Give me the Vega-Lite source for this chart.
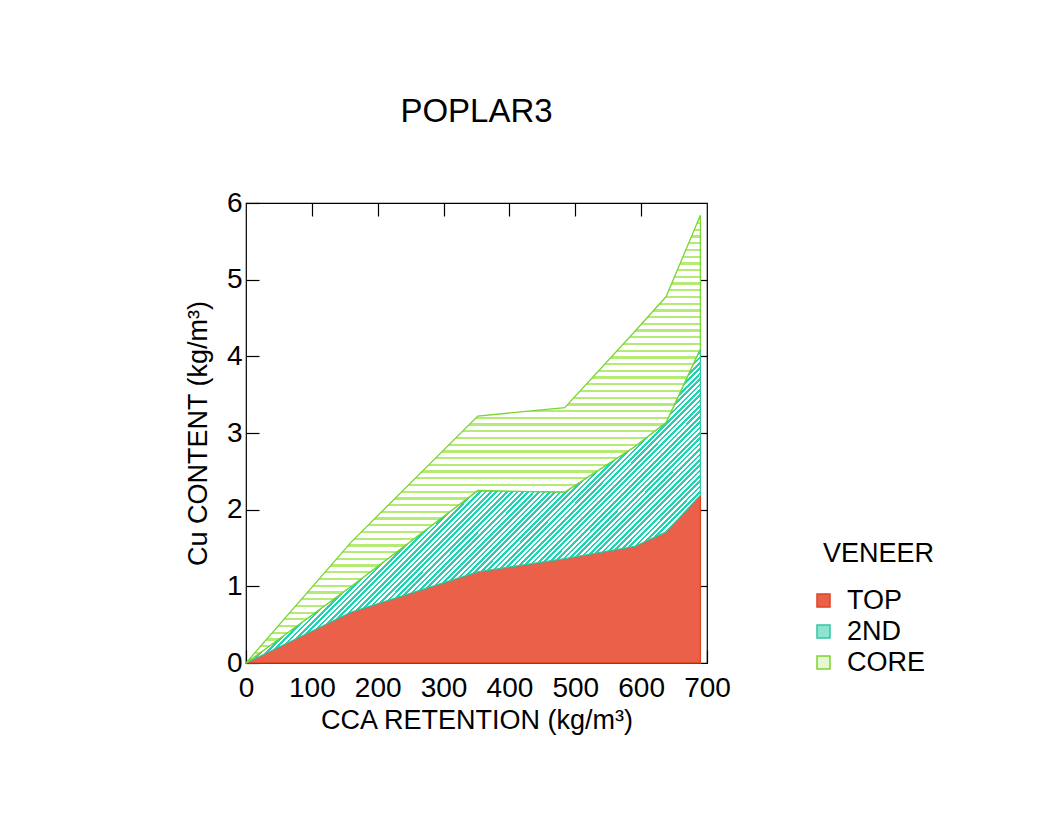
{
  "$schema": "https://vega.github.io/schema/vega-lite/v6.json",
  "width": 461,
  "height": 460,
  "autosize": {"type": "none"},
  "padding": {"left": 246, "top": 203, "right": 333, "bottom": 156},
  "background": "white",
  "title": {"text": "POPLAR3", "fontSize": 33, "fontWeight": "normal", "font": "Liberation Sans", "color": "#000", "offset": 60, "anchor": "middle", "frame": "group"},
  "config": {
    "view": {"stroke": "#000", "strokeWidth": 1.2},
    "font": "Liberation Sans",
    "axis": {"grid": false, "domain": false, "zindex": 1, "labelFlush": false, "labelOverlap": false, "tickColor": "#000", "tickSize": -13, "tickWidth": 1.2, "labelFont": "Liberation Sans", "labelFontSize": 28, "labelColor": "#000", "titleFont": "Liberation Sans", "titleFontSize": 27, "titleFontWeight": "normal", "titleColor": "#000"}
  },
  "data": {"values": [
    {"series": "TOP", "x": 0, "lo": 0, "hi": 0},
    {"series": "TOP", "x": 160, "lo": 0, "hi": 0.665},
    {"series": "TOP", "x": 352, "lo": 0, "hi": 1.19},
    {"series": "TOP", "x": 484, "lo": 0, "hi": 1.36},
    {"series": "TOP", "x": 590, "lo": 0, "hi": 1.52},
    {"series": "TOP", "x": 638, "lo": 0, "hi": 1.71},
    {"series": "TOP", "x": 690, "lo": 0, "hi": 2.19},
    {"series": "2ND", "x": 0, "lo": 0, "hi": 0},
    {"series": "2ND", "x": 160, "lo": 0.665, "hi": 1.0},
    {"series": "2ND", "x": 352, "lo": 1.19, "hi": 2.25},
    {"series": "2ND", "x": 484, "lo": 1.36, "hi": 2.23},
    {"series": "2ND", "x": 590, "lo": 1.52, "hi": 2.82},
    {"series": "2ND", "x": 638, "lo": 1.71, "hi": 3.14},
    {"series": "2ND", "x": 690, "lo": 2.19, "hi": 4.10},
    {"series": "CORE", "x": 0, "lo": 0, "hi": 0},
    {"series": "CORE", "x": 160, "lo": 1.0, "hi": 1.58},
    {"series": "CORE", "x": 352, "lo": 2.25, "hi": 3.22},
    {"series": "CORE", "x": 484, "lo": 2.23, "hi": 3.33},
    {"series": "CORE", "x": 590, "lo": 2.82, "hi": 4.32},
    {"series": "CORE", "x": 638, "lo": 3.14, "hi": 4.78},
    {"series": "CORE", "x": 690, "lo": 4.10, "hi": 5.84}
  ]},
  "layer": [
    {
      "transform": [{"filter": "datum.series === 'TOP'"}],
      "mark": {"type": "area", "strokeWidth": 1.3},
      "encoding": {
        "x": {"field": "x", "type": "quantitative", "scale": {"domain": [0, 700], "nice": false}, "axis": {"orient": "bottom", "values": [0, 100, 200, 300, 400, 500, 600, 700], "title": "CCA RETENTION (kg/m³)", "labelPadding": 24, "titlePadding": 5}},
        "y": {"field": "hi", "type": "quantitative", "scale": {"domain": [0, 6], "nice": false}, "axis": {"orient": "left", "values": [0, 1, 2, 3, 4, 5, 6], "title": "Cu CONTENT (kg/m³)", "labelPadding": 17, "titlePadding": 14}},
        "y2": {"field": "lo"},
        "fill": {"field": "series", "type": "nominal", "sort": ["TOP", "2ND", "CORE"], "scale": {"domain": ["TOP", "2ND", "CORE"], "range": ["#ea6048", "#8fe3d3", "#e6f7d2"]},
          "legend": {"title": "VENEER", "orient": "none", "legendX": 577, "legendY": 338, "padding": 0, "symbolType": "square", "symbolSize": 169, "symbolStrokeWidth": 1.5, "symbolOffset": -13, "labelFontSize": 27, "labelFont": "Liberation Sans", "labelColor": "#000", "titleFontSize": 27, "titleFont": "Liberation Sans", "titleFontWeight": "normal", "titleColor": "#000", "labelOffset": 10, "titlePadding": 19, "rowPadding": 3}},
        "stroke": {"field": "series", "type": "nominal", "sort": ["TOP", "2ND", "CORE"], "scale": {"domain": ["TOP", "2ND", "CORE"], "range": ["#dd4420", "#30c8a0", "#78d630"]}}
      }
    },
    {
      "transform": [{"filter": "datum.series === '2ND'"}],
      "mark": {"type": "area", "strokeWidth": 1.3, "fill": {"gradient": "linear", "x1": 0, "y1": 0, "x2": 1, "y2": 0.69, "stops": [
        {"offset": 0.44, "color": "#22d3b2"}, {"offset": 0.444, "color": "#22d3b2"}, {"offset": 0.444, "color": "#fff"}, {"offset": 0.448, "color": "#fff"},
        {"offset": 0.448, "color": "#22d3b2"}, {"offset": 0.452, "color": "#22d3b2"}, {"offset": 0.452, "color": "#fff"}, {"offset": 0.456, "color": "#fff"},
        {"offset": 0.456, "color": "#22d3b2"}, {"offset": 0.46, "color": "#22d3b2"}, {"offset": 0.46, "color": "#fff"}, {"offset": 0.464, "color": "#fff"},
        {"offset": 0.464, "color": "#22d3b2"}, {"offset": 0.468, "color": "#22d3b2"}, {"offset": 0.468, "color": "#fff"}, {"offset": 0.472, "color": "#fff"},
        {"offset": 0.472, "color": "#22d3b2"}, {"offset": 0.476, "color": "#22d3b2"}, {"offset": 0.476, "color": "#fff"}, {"offset": 0.48, "color": "#fff"},
        {"offset": 0.48, "color": "#22d3b2"}, {"offset": 0.484, "color": "#22d3b2"}, {"offset": 0.484, "color": "#fff"}, {"offset": 0.488, "color": "#fff"},
        {"offset": 0.488, "color": "#22d3b2"}, {"offset": 0.492, "color": "#22d3b2"}, {"offset": 0.492, "color": "#fff"}, {"offset": 0.496, "color": "#fff"},
        {"offset": 0.496, "color": "#22d3b2"}, {"offset": 0.5, "color": "#22d3b2"}, {"offset": 0.5, "color": "#fff"}, {"offset": 0.504, "color": "#fff"},
        {"offset": 0.504, "color": "#22d3b2"}, {"offset": 0.508, "color": "#22d3b2"}, {"offset": 0.508, "color": "#fff"}, {"offset": 0.512, "color": "#fff"},
        {"offset": 0.512, "color": "#22d3b2"}, {"offset": 0.516, "color": "#22d3b2"}, {"offset": 0.516, "color": "#fff"}, {"offset": 0.52, "color": "#fff"},
        {"offset": 0.52, "color": "#22d3b2"}, {"offset": 0.524, "color": "#22d3b2"}, {"offset": 0.524, "color": "#fff"}, {"offset": 0.528, "color": "#fff"},
        {"offset": 0.528, "color": "#22d3b2"}, {"offset": 0.532, "color": "#22d3b2"}, {"offset": 0.532, "color": "#fff"}, {"offset": 0.536, "color": "#fff"},
        {"offset": 0.536, "color": "#22d3b2"}, {"offset": 0.54, "color": "#22d3b2"}, {"offset": 0.54, "color": "#fff"}, {"offset": 0.544, "color": "#fff"},
        {"offset": 0.544, "color": "#22d3b2"}, {"offset": 0.548, "color": "#22d3b2"}, {"offset": 0.548, "color": "#fff"}, {"offset": 0.552, "color": "#fff"},
        {"offset": 0.552, "color": "#22d3b2"}, {"offset": 0.556, "color": "#22d3b2"}, {"offset": 0.556, "color": "#fff"}, {"offset": 0.56, "color": "#fff"},
        {"offset": 0.56, "color": "#22d3b2"}, {"offset": 0.564, "color": "#22d3b2"}, {"offset": 0.564, "color": "#fff"}, {"offset": 0.568, "color": "#fff"},
        {"offset": 0.568, "color": "#22d3b2"}, {"offset": 0.572, "color": "#22d3b2"}, {"offset": 0.572, "color": "#fff"}, {"offset": 0.576, "color": "#fff"},
        {"offset": 0.576, "color": "#22d3b2"}, {"offset": 0.58, "color": "#22d3b2"}, {"offset": 0.58, "color": "#fff"}, {"offset": 0.584, "color": "#fff"},
        {"offset": 0.584, "color": "#22d3b2"}, {"offset": 0.588, "color": "#22d3b2"}, {"offset": 0.588, "color": "#fff"}, {"offset": 0.592, "color": "#fff"},
        {"offset": 0.592, "color": "#22d3b2"}, {"offset": 0.596, "color": "#22d3b2"}, {"offset": 0.596, "color": "#fff"}, {"offset": 0.6, "color": "#fff"},
        {"offset": 0.6, "color": "#22d3b2"}, {"offset": 0.604, "color": "#22d3b2"}, {"offset": 0.604, "color": "#fff"}, {"offset": 0.608, "color": "#fff"},
        {"offset": 0.608, "color": "#22d3b2"}, {"offset": 0.612, "color": "#22d3b2"}, {"offset": 0.612, "color": "#fff"}, {"offset": 0.616, "color": "#fff"},
        {"offset": 0.616, "color": "#22d3b2"}, {"offset": 0.62, "color": "#22d3b2"}, {"offset": 0.62, "color": "#fff"}, {"offset": 0.624, "color": "#fff"},
        {"offset": 0.624, "color": "#22d3b2"}, {"offset": 0.628, "color": "#22d3b2"}, {"offset": 0.628, "color": "#fff"}, {"offset": 0.632, "color": "#fff"},
        {"offset": 0.632, "color": "#22d3b2"}, {"offset": 0.636, "color": "#22d3b2"}, {"offset": 0.636, "color": "#fff"}, {"offset": 0.64, "color": "#fff"},
        {"offset": 0.64, "color": "#22d3b2"}, {"offset": 0.644, "color": "#22d3b2"}, {"offset": 0.644, "color": "#fff"}, {"offset": 0.648, "color": "#fff"},
        {"offset": 0.648, "color": "#22d3b2"}, {"offset": 0.652, "color": "#22d3b2"}, {"offset": 0.652, "color": "#fff"}, {"offset": 0.656, "color": "#fff"},
        {"offset": 0.656, "color": "#22d3b2"}, {"offset": 0.66, "color": "#22d3b2"}, {"offset": 0.66, "color": "#fff"}, {"offset": 0.664, "color": "#fff"},
        {"offset": 0.664, "color": "#22d3b2"}, {"offset": 0.668, "color": "#22d3b2"}, {"offset": 0.668, "color": "#fff"}, {"offset": 0.672, "color": "#fff"},
        {"offset": 0.672, "color": "#22d3b2"}, {"offset": 0.676, "color": "#22d3b2"}, {"offset": 0.676, "color": "#fff"}, {"offset": 0.68, "color": "#fff"},
        {"offset": 0.68, "color": "#22d3b2"}, {"offset": 0.684, "color": "#22d3b2"}, {"offset": 0.684, "color": "#fff"}, {"offset": 0.688, "color": "#fff"},
        {"offset": 0.688, "color": "#22d3b2"}, {"offset": 0.692, "color": "#22d3b2"}, {"offset": 0.692, "color": "#fff"}, {"offset": 0.696, "color": "#fff"},
        {"offset": 0.696, "color": "#22d3b2"}, {"offset": 0.7, "color": "#22d3b2"}, {"offset": 0.7, "color": "#fff"}, {"offset": 0.704, "color": "#fff"},
        {"offset": 0.704, "color": "#22d3b2"}, {"offset": 0.708, "color": "#22d3b2"}, {"offset": 0.708, "color": "#fff"}, {"offset": 0.712, "color": "#fff"},
        {"offset": 0.712, "color": "#22d3b2"}, {"offset": 0.716, "color": "#22d3b2"}, {"offset": 0.716, "color": "#fff"}, {"offset": 0.72, "color": "#fff"},
        {"offset": 0.72, "color": "#22d3b2"}, {"offset": 0.724, "color": "#22d3b2"}, {"offset": 0.724, "color": "#fff"}, {"offset": 0.728, "color": "#fff"},
        {"offset": 0.728, "color": "#22d3b2"}, {"offset": 0.732, "color": "#22d3b2"}, {"offset": 0.732, "color": "#fff"}, {"offset": 0.736, "color": "#fff"},
        {"offset": 0.736, "color": "#22d3b2"}, {"offset": 0.74, "color": "#22d3b2"}, {"offset": 0.74, "color": "#fff"}, {"offset": 0.744, "color": "#fff"},
        {"offset": 0.744, "color": "#22d3b2"}, {"offset": 0.748, "color": "#22d3b2"}, {"offset": 0.748, "color": "#fff"}, {"offset": 0.752, "color": "#fff"},
        {"offset": 0.752, "color": "#22d3b2"}, {"offset": 0.756, "color": "#22d3b2"}, {"offset": 0.756, "color": "#fff"}, {"offset": 0.76, "color": "#fff"},
        {"offset": 0.76, "color": "#22d3b2"}, {"offset": 0.764, "color": "#22d3b2"}, {"offset": 0.764, "color": "#fff"}, {"offset": 0.768, "color": "#fff"},
        {"offset": 0.768, "color": "#22d3b2"}, {"offset": 0.772, "color": "#22d3b2"}, {"offset": 0.772, "color": "#fff"}, {"offset": 0.776, "color": "#fff"},
        {"offset": 0.776, "color": "#22d3b2"}, {"offset": 0.78, "color": "#22d3b2"}, {"offset": 0.78, "color": "#fff"}, {"offset": 0.784, "color": "#fff"},
        {"offset": 0.784, "color": "#22d3b2"}, {"offset": 0.788, "color": "#22d3b2"}, {"offset": 0.788, "color": "#fff"}, {"offset": 0.792, "color": "#fff"},
        {"offset": 0.792, "color": "#22d3b2"}, {"offset": 0.796, "color": "#22d3b2"}, {"offset": 0.796, "color": "#fff"}, {"offset": 0.8, "color": "#fff"},
        {"offset": 0.8, "color": "#22d3b2"}, {"offset": 0.804, "color": "#22d3b2"}, {"offset": 0.804, "color": "#fff"}, {"offset": 0.808, "color": "#fff"},
        {"offset": 0.808, "color": "#22d3b2"}, {"offset": 0.812, "color": "#22d3b2"}, {"offset": 0.812, "color": "#fff"}, {"offset": 0.816, "color": "#fff"},
        {"offset": 0.816, "color": "#22d3b2"}, {"offset": 0.82, "color": "#22d3b2"}, {"offset": 0.82, "color": "#fff"}, {"offset": 0.824, "color": "#fff"},
        {"offset": 0.824, "color": "#22d3b2"}, {"offset": 0.828, "color": "#22d3b2"}, {"offset": 0.828, "color": "#fff"}, {"offset": 0.832, "color": "#fff"},
        {"offset": 0.832, "color": "#22d3b2"}, {"offset": 0.836, "color": "#22d3b2"}, {"offset": 0.836, "color": "#fff"}, {"offset": 0.84, "color": "#fff"},
        {"offset": 0.84, "color": "#22d3b2"}, {"offset": 0.844, "color": "#22d3b2"}, {"offset": 0.844, "color": "#fff"}, {"offset": 0.848, "color": "#fff"},
        {"offset": 0.848, "color": "#22d3b2"}, {"offset": 0.852, "color": "#22d3b2"}, {"offset": 0.852, "color": "#fff"}, {"offset": 0.856, "color": "#fff"},
        {"offset": 0.856, "color": "#22d3b2"}, {"offset": 0.86, "color": "#22d3b2"}, {"offset": 0.86, "color": "#fff"}, {"offset": 0.864, "color": "#fff"},
        {"offset": 0.864, "color": "#22d3b2"}, {"offset": 0.868, "color": "#22d3b2"}, {"offset": 0.868, "color": "#fff"}, {"offset": 0.872, "color": "#fff"},
        {"offset": 0.872, "color": "#22d3b2"}, {"offset": 0.876, "color": "#22d3b2"}, {"offset": 0.876, "color": "#fff"}, {"offset": 0.88, "color": "#fff"},
        {"offset": 0.88, "color": "#22d3b2"}, {"offset": 0.884, "color": "#22d3b2"}, {"offset": 0.884, "color": "#fff"}, {"offset": 0.888, "color": "#fff"},
        {"offset": 0.888, "color": "#22d3b2"}, {"offset": 0.892, "color": "#22d3b2"}, {"offset": 0.892, "color": "#fff"}, {"offset": 0.896, "color": "#fff"},
        {"offset": 0.896, "color": "#22d3b2"}, {"offset": 0.9, "color": "#22d3b2"}, {"offset": 0.9, "color": "#fff"}, {"offset": 0.904, "color": "#fff"},
        {"offset": 0.904, "color": "#22d3b2"}, {"offset": 0.908, "color": "#22d3b2"}, {"offset": 0.908, "color": "#fff"}, {"offset": 0.912, "color": "#fff"},
        {"offset": 0.912, "color": "#22d3b2"}, {"offset": 0.916, "color": "#22d3b2"}, {"offset": 0.916, "color": "#fff"}, {"offset": 0.92, "color": "#fff"},
        {"offset": 0.92, "color": "#22d3b2"}, {"offset": 0.924, "color": "#22d3b2"}, {"offset": 0.924, "color": "#fff"}, {"offset": 0.928, "color": "#fff"}
      ]}},
      "encoding": {
        "x": {"field": "x", "type": "quantitative", "axis": {"orient": "top", "values": [100, 200, 300, 400, 500, 600], "labels": false, "title": null}},
        "y": {"field": "hi", "type": "quantitative", "axis": {"orient": "right", "values": [1, 2, 3, 4, 5], "labels": false, "title": null}},
        "y2": {"field": "lo"},
        "stroke": {"field": "series", "type": "nominal"}
      }
    },
    {
      "transform": [{"filter": "datum.series === 'CORE'"}],
      "mark": {"type": "area", "strokeWidth": 1.3, "fill": {"gradient": "linear", "x1": 0, "y1": 0, "x2": 0, "y2": 1, "stops": [
        {"offset": 0, "color": "#b5eb74"}, {"offset": 0.005, "color": "#b5eb74"}, {"offset": 0.005, "color": "#fff"}, {"offset": 0.015, "color": "#fff"},
        {"offset": 0.015, "color": "#b5eb74"}, {"offset": 0.02, "color": "#b5eb74"}, {"offset": 0.02, "color": "#fff"}, {"offset": 0.03, "color": "#fff"},
        {"offset": 0.03, "color": "#b5eb74"}, {"offset": 0.035, "color": "#b5eb74"}, {"offset": 0.035, "color": "#fff"}, {"offset": 0.045, "color": "#fff"},
        {"offset": 0.045, "color": "#b5eb74"}, {"offset": 0.05, "color": "#b5eb74"}, {"offset": 0.05, "color": "#fff"}, {"offset": 0.06, "color": "#fff"},
        {"offset": 0.06, "color": "#b5eb74"}, {"offset": 0.065, "color": "#b5eb74"}, {"offset": 0.065, "color": "#fff"}, {"offset": 0.075, "color": "#fff"},
        {"offset": 0.075, "color": "#b5eb74"}, {"offset": 0.08, "color": "#b5eb74"}, {"offset": 0.08, "color": "#fff"}, {"offset": 0.09, "color": "#fff"},
        {"offset": 0.09, "color": "#b5eb74"}, {"offset": 0.095, "color": "#b5eb74"}, {"offset": 0.095, "color": "#fff"}, {"offset": 0.105, "color": "#fff"},
        {"offset": 0.105, "color": "#b5eb74"}, {"offset": 0.11, "color": "#b5eb74"}, {"offset": 0.11, "color": "#fff"}, {"offset": 0.12, "color": "#fff"},
        {"offset": 0.12, "color": "#b5eb74"}, {"offset": 0.125, "color": "#b5eb74"}, {"offset": 0.125, "color": "#fff"}, {"offset": 0.135, "color": "#fff"},
        {"offset": 0.135, "color": "#b5eb74"}, {"offset": 0.14, "color": "#b5eb74"}, {"offset": 0.14, "color": "#fff"}, {"offset": 0.15, "color": "#fff"},
        {"offset": 0.15, "color": "#b5eb74"}, {"offset": 0.155, "color": "#b5eb74"}, {"offset": 0.155, "color": "#fff"}, {"offset": 0.165, "color": "#fff"},
        {"offset": 0.165, "color": "#b5eb74"}, {"offset": 0.17, "color": "#b5eb74"}, {"offset": 0.17, "color": "#fff"}, {"offset": 0.18, "color": "#fff"},
        {"offset": 0.18, "color": "#b5eb74"}, {"offset": 0.185, "color": "#b5eb74"}, {"offset": 0.185, "color": "#fff"}, {"offset": 0.195, "color": "#fff"},
        {"offset": 0.195, "color": "#b5eb74"}, {"offset": 0.2, "color": "#b5eb74"}, {"offset": 0.2, "color": "#fff"}, {"offset": 0.21, "color": "#fff"},
        {"offset": 0.21, "color": "#b5eb74"}, {"offset": 0.215, "color": "#b5eb74"}, {"offset": 0.215, "color": "#fff"}, {"offset": 0.225, "color": "#fff"},
        {"offset": 0.225, "color": "#b5eb74"}, {"offset": 0.23, "color": "#b5eb74"}, {"offset": 0.23, "color": "#fff"}, {"offset": 0.24, "color": "#fff"},
        {"offset": 0.24, "color": "#b5eb74"}, {"offset": 0.245, "color": "#b5eb74"}, {"offset": 0.245, "color": "#fff"}, {"offset": 0.255, "color": "#fff"},
        {"offset": 0.255, "color": "#b5eb74"}, {"offset": 0.26, "color": "#b5eb74"}, {"offset": 0.26, "color": "#fff"}, {"offset": 0.27, "color": "#fff"},
        {"offset": 0.27, "color": "#b5eb74"}, {"offset": 0.275, "color": "#b5eb74"}, {"offset": 0.275, "color": "#fff"}, {"offset": 0.285, "color": "#fff"},
        {"offset": 0.285, "color": "#b5eb74"}, {"offset": 0.29, "color": "#b5eb74"}, {"offset": 0.29, "color": "#fff"}, {"offset": 0.3, "color": "#fff"},
        {"offset": 0.3, "color": "#b5eb74"}, {"offset": 0.305, "color": "#b5eb74"}, {"offset": 0.305, "color": "#fff"}, {"offset": 0.315, "color": "#fff"},
        {"offset": 0.315, "color": "#b5eb74"}, {"offset": 0.32, "color": "#b5eb74"}, {"offset": 0.32, "color": "#fff"}, {"offset": 0.33, "color": "#fff"},
        {"offset": 0.33, "color": "#b5eb74"}, {"offset": 0.335, "color": "#b5eb74"}, {"offset": 0.335, "color": "#fff"}, {"offset": 0.345, "color": "#fff"},
        {"offset": 0.345, "color": "#b5eb74"}, {"offset": 0.35, "color": "#b5eb74"}, {"offset": 0.35, "color": "#fff"}, {"offset": 0.36, "color": "#fff"},
        {"offset": 0.36, "color": "#b5eb74"}, {"offset": 0.365, "color": "#b5eb74"}, {"offset": 0.365, "color": "#fff"}, {"offset": 0.375, "color": "#fff"},
        {"offset": 0.375, "color": "#b5eb74"}, {"offset": 0.38, "color": "#b5eb74"}, {"offset": 0.38, "color": "#fff"}, {"offset": 0.39, "color": "#fff"},
        {"offset": 0.39, "color": "#b5eb74"}, {"offset": 0.395, "color": "#b5eb74"}, {"offset": 0.395, "color": "#fff"}, {"offset": 0.405, "color": "#fff"},
        {"offset": 0.405, "color": "#b5eb74"}, {"offset": 0.41, "color": "#b5eb74"}, {"offset": 0.41, "color": "#fff"}, {"offset": 0.42, "color": "#fff"},
        {"offset": 0.42, "color": "#b5eb74"}, {"offset": 0.425, "color": "#b5eb74"}, {"offset": 0.425, "color": "#fff"}, {"offset": 0.435, "color": "#fff"},
        {"offset": 0.435, "color": "#b5eb74"}, {"offset": 0.44, "color": "#b5eb74"}, {"offset": 0.44, "color": "#fff"}, {"offset": 0.45, "color": "#fff"},
        {"offset": 0.45, "color": "#b5eb74"}, {"offset": 0.455, "color": "#b5eb74"}, {"offset": 0.455, "color": "#fff"}, {"offset": 0.465, "color": "#fff"},
        {"offset": 0.465, "color": "#b5eb74"}, {"offset": 0.47, "color": "#b5eb74"}, {"offset": 0.47, "color": "#fff"}, {"offset": 0.48, "color": "#fff"},
        {"offset": 0.48, "color": "#b5eb74"}, {"offset": 0.485, "color": "#b5eb74"}, {"offset": 0.485, "color": "#fff"}, {"offset": 0.495, "color": "#fff"},
        {"offset": 0.495, "color": "#b5eb74"}, {"offset": 0.5, "color": "#b5eb74"}, {"offset": 0.5, "color": "#fff"}, {"offset": 0.51, "color": "#fff"},
        {"offset": 0.51, "color": "#b5eb74"}, {"offset": 0.515, "color": "#b5eb74"}, {"offset": 0.515, "color": "#fff"}, {"offset": 0.525, "color": "#fff"},
        {"offset": 0.525, "color": "#b5eb74"}, {"offset": 0.53, "color": "#b5eb74"}, {"offset": 0.53, "color": "#fff"}, {"offset": 0.54, "color": "#fff"},
        {"offset": 0.54, "color": "#b5eb74"}, {"offset": 0.545, "color": "#b5eb74"}, {"offset": 0.545, "color": "#fff"}, {"offset": 0.555, "color": "#fff"},
        {"offset": 0.555, "color": "#b5eb74"}, {"offset": 0.56, "color": "#b5eb74"}, {"offset": 0.56, "color": "#fff"}, {"offset": 0.57, "color": "#fff"},
        {"offset": 0.57, "color": "#b5eb74"}, {"offset": 0.575, "color": "#b5eb74"}, {"offset": 0.575, "color": "#fff"}, {"offset": 0.585, "color": "#fff"},
        {"offset": 0.585, "color": "#b5eb74"}, {"offset": 0.59, "color": "#b5eb74"}, {"offset": 0.59, "color": "#fff"}, {"offset": 0.6, "color": "#fff"},
        {"offset": 0.6, "color": "#b5eb74"}, {"offset": 0.605, "color": "#b5eb74"}, {"offset": 0.605, "color": "#fff"}, {"offset": 0.615, "color": "#fff"},
        {"offset": 0.615, "color": "#b5eb74"}, {"offset": 0.62, "color": "#b5eb74"}, {"offset": 0.62, "color": "#fff"}, {"offset": 0.63, "color": "#fff"},
        {"offset": 0.63, "color": "#b5eb74"}, {"offset": 0.635, "color": "#b5eb74"}, {"offset": 0.635, "color": "#fff"}, {"offset": 0.645, "color": "#fff"},
        {"offset": 0.645, "color": "#b5eb74"}, {"offset": 0.65, "color": "#b5eb74"}, {"offset": 0.65, "color": "#fff"}, {"offset": 0.66, "color": "#fff"},
        {"offset": 0.66, "color": "#b5eb74"}, {"offset": 0.665, "color": "#b5eb74"}, {"offset": 0.665, "color": "#fff"}, {"offset": 0.675, "color": "#fff"},
        {"offset": 0.675, "color": "#b5eb74"}, {"offset": 0.68, "color": "#b5eb74"}, {"offset": 0.68, "color": "#fff"}, {"offset": 0.69, "color": "#fff"},
        {"offset": 0.69, "color": "#b5eb74"}, {"offset": 0.695, "color": "#b5eb74"}, {"offset": 0.695, "color": "#fff"}, {"offset": 0.705, "color": "#fff"},
        {"offset": 0.705, "color": "#b5eb74"}, {"offset": 0.71, "color": "#b5eb74"}, {"offset": 0.71, "color": "#fff"}, {"offset": 0.72, "color": "#fff"},
        {"offset": 0.72, "color": "#b5eb74"}, {"offset": 0.725, "color": "#b5eb74"}, {"offset": 0.725, "color": "#fff"}, {"offset": 0.735, "color": "#fff"},
        {"offset": 0.735, "color": "#b5eb74"}, {"offset": 0.74, "color": "#b5eb74"}, {"offset": 0.74, "color": "#fff"}, {"offset": 0.75, "color": "#fff"},
        {"offset": 0.75, "color": "#b5eb74"}, {"offset": 0.755, "color": "#b5eb74"}, {"offset": 0.755, "color": "#fff"}, {"offset": 0.765, "color": "#fff"},
        {"offset": 0.765, "color": "#b5eb74"}, {"offset": 0.77, "color": "#b5eb74"}, {"offset": 0.77, "color": "#fff"}, {"offset": 0.78, "color": "#fff"},
        {"offset": 0.78, "color": "#b5eb74"}, {"offset": 0.785, "color": "#b5eb74"}, {"offset": 0.785, "color": "#fff"}, {"offset": 0.795, "color": "#fff"},
        {"offset": 0.795, "color": "#b5eb74"}, {"offset": 0.8, "color": "#b5eb74"}, {"offset": 0.8, "color": "#fff"}, {"offset": 0.81, "color": "#fff"},
        {"offset": 0.81, "color": "#b5eb74"}, {"offset": 0.815, "color": "#b5eb74"}, {"offset": 0.815, "color": "#fff"}, {"offset": 0.825, "color": "#fff"},
        {"offset": 0.825, "color": "#b5eb74"}, {"offset": 0.83, "color": "#b5eb74"}, {"offset": 0.83, "color": "#fff"}, {"offset": 0.84, "color": "#fff"},
        {"offset": 0.84, "color": "#b5eb74"}, {"offset": 0.845, "color": "#b5eb74"}, {"offset": 0.845, "color": "#fff"}, {"offset": 0.855, "color": "#fff"},
        {"offset": 0.855, "color": "#b5eb74"}, {"offset": 0.86, "color": "#b5eb74"}, {"offset": 0.86, "color": "#fff"}, {"offset": 0.87, "color": "#fff"},
        {"offset": 0.87, "color": "#b5eb74"}, {"offset": 0.875, "color": "#b5eb74"}, {"offset": 0.875, "color": "#fff"}, {"offset": 0.885, "color": "#fff"},
        {"offset": 0.885, "color": "#b5eb74"}, {"offset": 0.89, "color": "#b5eb74"}, {"offset": 0.89, "color": "#fff"}, {"offset": 0.9, "color": "#fff"},
        {"offset": 0.9, "color": "#b5eb74"}, {"offset": 0.905, "color": "#b5eb74"}, {"offset": 0.905, "color": "#fff"}, {"offset": 0.915, "color": "#fff"},
        {"offset": 0.915, "color": "#b5eb74"}, {"offset": 0.92, "color": "#b5eb74"}, {"offset": 0.92, "color": "#fff"}, {"offset": 0.93, "color": "#fff"},
        {"offset": 0.93, "color": "#b5eb74"}, {"offset": 0.935, "color": "#b5eb74"}, {"offset": 0.935, "color": "#fff"}, {"offset": 0.945, "color": "#fff"},
        {"offset": 0.945, "color": "#b5eb74"}, {"offset": 0.95, "color": "#b5eb74"}, {"offset": 0.95, "color": "#fff"}, {"offset": 0.96, "color": "#fff"},
        {"offset": 0.96, "color": "#b5eb74"}, {"offset": 0.965, "color": "#b5eb74"}, {"offset": 0.965, "color": "#fff"}, {"offset": 0.975, "color": "#fff"},
        {"offset": 0.975, "color": "#b5eb74"}, {"offset": 0.98, "color": "#b5eb74"}, {"offset": 0.98, "color": "#fff"}, {"offset": 0.99, "color": "#fff"},
        {"offset": 0.99, "color": "#b5eb74"}, {"offset": 0.995, "color": "#b5eb74"}, {"offset": 0.995, "color": "#fff"}, {"offset": 1, "color": "#fff"}
      ]}},
      "encoding": {
        "x": {"field": "x", "type": "quantitative", "axis": null},
        "y": {"field": "hi", "type": "quantitative", "axis": null},
        "y2": {"field": "lo"},
        "stroke": {"field": "series", "type": "nominal"}
      }
    }
  ],
  "resolve": {"axis": {"x": "independent", "y": "independent"}}
}
